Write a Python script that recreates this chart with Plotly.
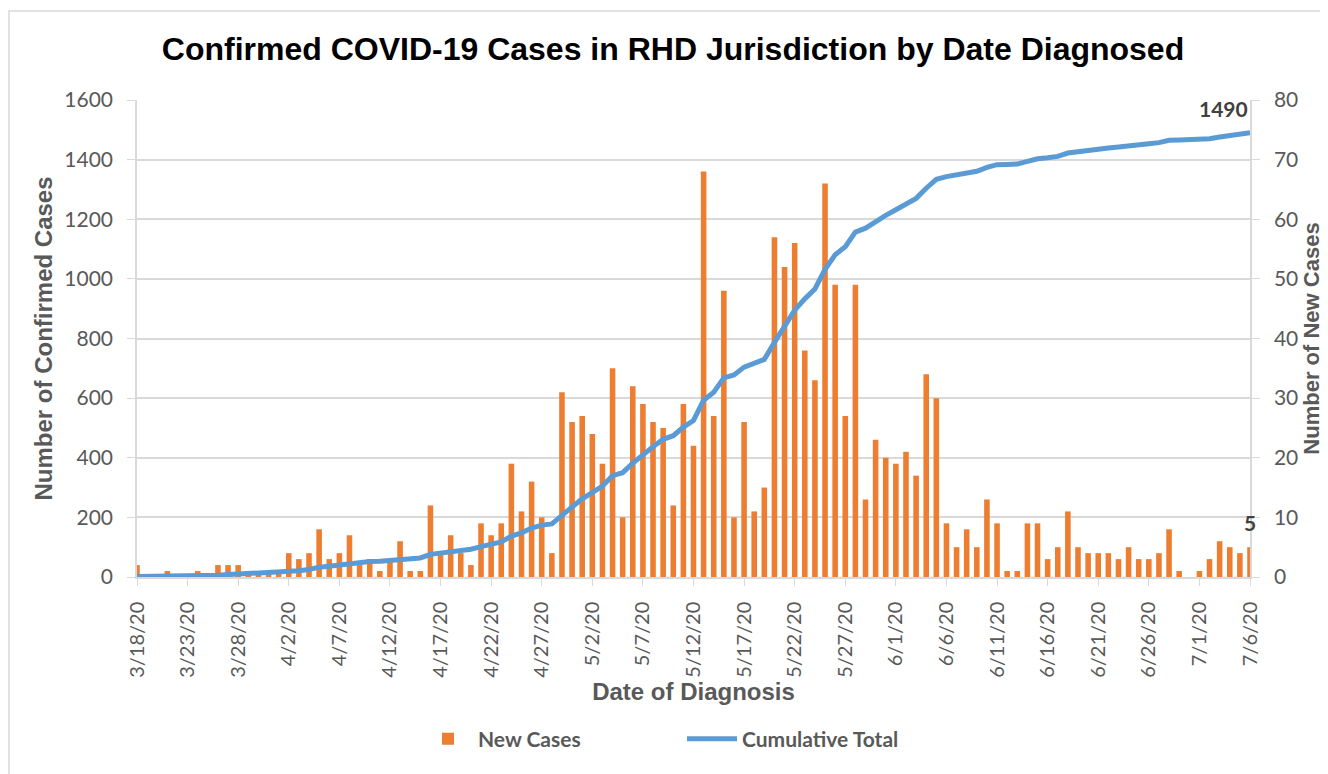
import pandas as pd
import plotly.graph_objects as go

# ---- data ----
start_date = "2020-03-18"
n_days = 111
dates = pd.date_range(start_date, periods=n_days, freq="D")

new_cases = [2, 0, 0, 1, 0, 0, 1, 0, 2, 2,
             2, 1, 1, 1, 1, 4, 3, 4, 8, 3,
             4, 7, 2, 3, 1, 3, 6, 1, 1, 12,
             4, 7, 4, 2, 9, 7, 9, 19, 11, 16,
             10, 4, 31, 26, 27, 24, 19, 35, 10, 32,
             29, 26, 25, 12, 29, 22, 68, 27, 48, 10,
             26, 11, 15, 57, 52, 56, 38, 33, 66, 49,
             27, 49, 13, 23, 20, 19, 21, 17, 34, 30,
             9, 5, 8, 5, 13, 9, 1, 1, 9, 9,
             3, 5, 11, 5, 4, 4, 4, 3, 5, 3,
             3, 4, 8, 1, 0, 1, 3, 6, 5, 4,
             5]

cumulative_total = [2, 2, 2, 3, 3, 3, 4, 4, 6, 8,
                    10, 11, 12, 13, 14, 18, 21, 25, 33, 36,
                    40, 47, 49, 52, 53, 56, 62, 63, 64, 76,
                    80, 87, 91, 93, 102, 109, 118, 137, 148, 164,
                    174, 178, 209, 235, 262, 286, 305, 340, 350, 382,
                    411, 437, 462, 474, 503, 525, 593, 620, 668, 678,
                    704, 715, 730, 787, 839, 895, 933, 966, 1032, 1081,
                    1108, 1157, 1170, 1193, 1213, 1232, 1253, 1270, 1304, 1334,
                    1343, 1348, 1356, 1361, 1374, 1383, 1384, 1385, 1394, 1403,
                    1406, 1411, 1422, 1427, 1431, 1435, 1439, 1442, 1447, 1450,
                    1453, 1457, 1465, 1466, 1466, 1467, 1470, 1476, 1481, 1485,
                    1490]

title_text = "Confirmed COVID-19 Cases in RHD Jurisdiction by Date Diagnosed"
left_axis_title = "Number of Confirmed Cases"
right_axis_title = "Number of New Cases"
x_axis_title = "Date of Diagnosis"
bar_name = "New Cases"
line_name = "Cumulative Total"

ORANGE = "#ED7D31"
BLUE = "#5B9BD5"
GRAY = "#595959"
LABEL = "#404040"
GRID = "#D9D9D9"

fig = go.Figure()
fig.add_trace(go.Bar(
    x=dates, y=new_cases, name=bar_name, marker_color=ORANGE,
    marker_line_width=0, yaxis="y",
))
fig.add_trace(go.Scatter(
    x=dates, y=cumulative_total, name=line_name, mode="lines",
    line=dict(color=BLUE, width=5), yaxis="y2",
))

# page body has an 8px margin: figure is placed at page (8, 8)
OFF = 8
W, H = 1320, 766
L, R, T, B = 137 - OFF, 78, 100 - OFF, H - (577 - OFF)
pw, ph = W - L - R, H - T - B


def px(xpage):
    return (xpage - OFF - L) / pw


def py(ypage):
    return (H - B - (ypage - OFF)) / ph


fig.update_layout(
    width=W, height=H,
    margin=dict(l=L, r=R, t=T, b=B, autoexpand=False),
    paper_bgcolor="white", plot_bgcolor="white",
    bargap=0.45,
    title=dict(text=title_text, x=(673 - OFF) / W, xanchor="center",
               y=1 - (49 - OFF) / H, yanchor="middle",
               font=dict(family="Liberation Sans", size=32, color="black", weight="bold")),
    xaxis=dict(
        type="date", range=[dates[0], dates[-1]],
        tick0=dates[0], dtick=5 * 86400000, tickformat="%-m/%-d/%y",
        tickangle=-90, ticks="outside", ticklen=7, tickcolor=GRID,
        tickfont=dict(family="Lato", size=20, color=GRAY),
        showline=True, linecolor=GRID, linewidth=1.5, showgrid=False,
        ticklabelstandoff=8,
        title=dict(text=x_axis_title, standoff=6,
                   font=dict(family="Liberation Sans", size=24, color=GRAY, weight="bold")),
    ),
    yaxis=dict(
        side="right", range=[0, 80], dtick=10, showgrid=False,
        ticks="outside", ticklen=8, tickcolor=GRID,
        showline=True, linecolor=GRID, linewidth=1.5, zeroline=False,
        tickfont=dict(family="Lato", size=21, color=GRAY),
        ticklabelstandoff=10,
        title=dict(text=right_axis_title, standoff=6,
                   font=dict(family="Liberation Sans", size=22, color=GRAY, weight="bold")),
    ),
    yaxis2=dict(
        side="left", overlaying="y", range=[0, 1600], dtick=200,
        showgrid=True, gridcolor=GRID, gridwidth=1.5, zeroline=False,
        ticks="outside", ticklen=8, tickcolor=GRID,
        showline=True, linecolor=GRID, linewidth=1.5,
        tickfont=dict(family="Lato", size=21, color=GRAY),
        ticklabelstandoff=10,
        title=dict(text=left_axis_title, standoff=5,
                   font=dict(family="Liberation Sans", size=24, color=GRAY, weight="bold")),
    ),
    legend=dict(
        orientation="h", x=px(418), xanchor="left", y=py(739), yanchor="middle",
        itemwidth=50, entrywidth=199, entrywidthmode="pixels",
        font=dict(family="Lato", size=21, color=GRAY, weight="bold"),
        bgcolor="rgba(0,0,0,0)",
    ),
    annotations=[
        dict(x=dates[-1], y=cumulative_total[-1], xref="x", yref="y2",
             text=str(cumulative_total[-1]), showarrow=False,
             xanchor="right", yanchor="bottom", yshift=10,
             font=dict(family="Lato", size=21, color=LABEL, weight="bold")),
        dict(x=dates[-1], y=new_cases[-1], xref="x", yref="y",
             text=str(new_cases[-1]), showarrow=False,
             xanchor="center", yanchor="bottom", yshift=10,
             font=dict(family="Lato", size=21, color=LABEL, weight="bold")),
    ],
    shapes=[dict(type="rect", xref="paper", yref="paper",
                 x0=px(9), x1=px(1345), y0=py(790), y1=py(11),
                 line=dict(color=GRID, width=1.5), fillcolor="rgba(0,0,0,0)", layer="below")],
)

fig.write_html("out.html")
